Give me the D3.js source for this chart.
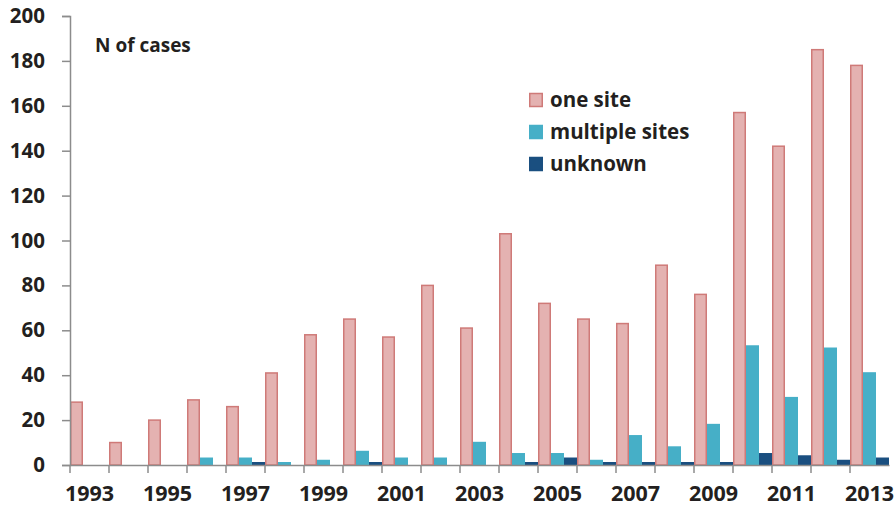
<!DOCTYPE html>
<html>
<head>
<meta charset="utf-8">
<script src="https://cdn.jsdelivr.net/npm/d3@7"></script>
<style>
  body { margin: 0; background: #fff; }
  svg { display: block; font-family: "Open Sans", sans-serif; }
</style>
</head>
<body>
<div id="chart"></div>
<script>
// Data
const years = d3.range(1993, 2014).map(String);
const oneSite = [28, 10, 20, 29, 26, 41, 58, 65, 57, 80, 61, 103, 72, 65, 63, 89, 76, 157, 142, 185, 178];
const multipleSites = [0, 0, 0, 3, 3, 1, 2, 6, 3, 3, 10, 5, 5, 2, 13, 8, 18, 53, 30, 52, 41];
const unknown = [0, 0, 0, 0, 1, 0, 0, 1, 0, 0, 0, 1, 3, 1, 1, 1, 1, 5, 4, 2, 3];
const seriesNames = ["one site", "multiple sites", "unknown"];
const yTicks = [0, 20, 40, 60, 80, 100, 120, 140, 160, 180, 200];

const width = 896, height = 510;
const margin = {top: 16, right: 7, bottom: 45, left: 70};
const fontFamily = "'Open Sans', sans-serif";

const svg = d3.select("#chart")
    .append("svg")
    .attr("width", width)
    .attr("height", height);

const x = d3.scaleBand()
    .domain(years)
    .range([margin.left, width - margin.right])
    .paddingInner(0)
    .paddingOuter(0);

const xSub = d3.scaleBand()
    .domain(seriesNames)
    .range([0, x.bandwidth()]);

const y = d3.scaleLinear()
    .domain([0, 200])
    .range([height - margin.bottom, margin.top]);

const color = d3.scaleOrdinal()
    .domain(seriesNames)
    .range(["#e4b2b1", "#46afc7", "#1a4f80"]);
const strokeColor = d3.scaleOrdinal()
    .domain(seriesNames)
    .range(["#cf7a78", "#46afc7", "#1a4f80"]);

const rows = years.map((yr, i) => ({
    year: yr,
    values: [oneSite[i], multipleSites[i], unknown[i]]
}));

// Bars
const groups = svg.append("g")
    .selectAll("g")
    .data(rows)
    .enter().append("g")
    .attr("transform", d => `translate(${x(d.year)},0)`);

groups.selectAll("rect")
    .data(d => d.values.map((v, j) => ({key: seriesNames[j], value: v})))
    .enter().append("rect")
    .filter(d => d.value > 0)
    .attr("x", d => xSub(d.key) + 0.75)
    .attr("width", xSub.bandwidth() - 1.5)
    .attr("y", d => y(d.value))
    .attr("height", d => y(0) - y(d.value))
    .attr("fill", d => color(d.key))
    .attr("stroke", d => strokeColor(d.key))
    .attr("stroke-width", 1.5);

// Axes
const axisColor = "#8c8c8c";
const textColor = "#231f20";

const yAxis = svg.append("g")
    .attr("transform", `translate(${margin.left},0)`)
    .call(d3.axisLeft(y).tickValues(yTicks).tickSize(8).tickSizeOuter(8).tickPadding(17));
yAxis.selectAll("path, line").attr("stroke", axisColor).attr("stroke-width", 1.5);
yAxis.selectAll("text")
    .attr("fill", textColor)
    .attr("font-size", 20.5)
    .attr("font-weight", "bold")
    .attr("font-family", fontFamily);

const xAxis = svg.append("g")
    .attr("transform", `translate(0,${y(0)})`)
    .call(d3.axisBottom(x)
        .tickFormat(d => (+d % 2 === 1 ? d : ""))
        .tickSize(0)
        .tickPadding(21));
xAxis.select(".domain").attr("stroke", axisColor).attr("stroke-width", 1.5);
xAxis.selectAll("text")
    .attr("fill", textColor)
    .attr("font-size", 21.5)
    .attr("font-weight", "bold")
    .attr("font-family", fontFamily);

// Tick marks at category boundaries
xAxis.append("g")
    .selectAll("line")
    .data(years)
    .enter().append("line")
    .attr("x1", d => x(d))
    .attr("x2", d => x(d))
    .attr("y1", 0)
    .attr("y2", 8)
    .attr("stroke", axisColor)
    .attr("stroke-width", 1.5);

// Axis title
svg.append("text")
    .attr("x", 95)
    .attr("y", 52)
    .attr("fill", textColor)
    .attr("font-size", 19)
    .attr("font-weight", "bold")
    .attr("font-family", fontFamily)
    .text("N of cases");

// Legend
const legend = svg.append("g")
    .selectAll("g")
    .data(seriesNames)
    .enter().append("g")
    .attr("transform", (d, i) => `translate(529,${100 + i * 32})`);

legend.append("rect")
    .attr("x", 0.75)
    .attr("y", -6.5)
    .attr("width", 12.5)
    .attr("height", 13)
    .attr("fill", color)
    .attr("stroke", strokeColor)
    .attr("stroke-width", 1.5);

legend.append("text")
    .attr("x", 21)
    .attr("y", 0)
    .attr("dy", "0.35em")
    .attr("fill", textColor)
    .attr("font-size", 20.5)
    .attr("font-weight", "bold")
    .attr("font-family", fontFamily)
    .text(d => d);
</script>
</body>
</html>
